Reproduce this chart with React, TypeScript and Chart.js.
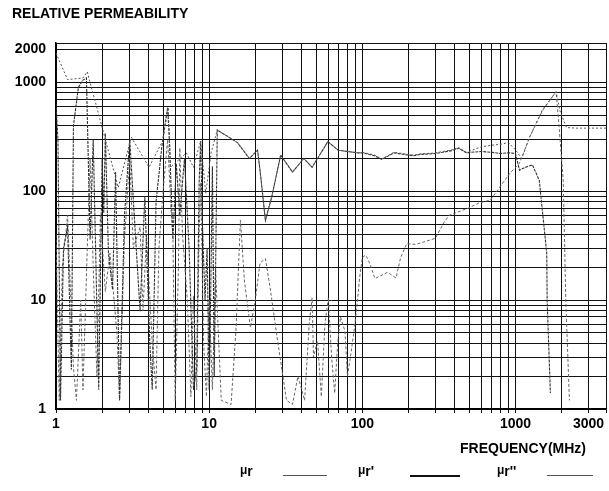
import React, { useEffect, useRef } from 'react';
import { Chart, registerables } from 'chart.js';
Chart.register(...registerables);

// μr (magnitude) – dotted
const F_MU = [1, 1.19, 1.5, 1.6, 2.05, 2.55, 3.1, 4.05, 4.97, 5.4, 5.6, 7.1, 7.9, 8.8, 9.5, 10.3, 11.3, 15.3, 18.3, 20.7, 21.6, 23.3, 25.6, 29.3, 35, 41.5, 47, 59.6, 69.6, 94, 101, 120, 134, 161, 215, 238, 300, 384, 425, 477, 594, 700, 800, 900, 1000, 1100, 1238, 1500, 1840, 1950, 2150, 2500, 3000, 3900];
const V_MU = [1860, 1060, 1100, 1250, 340, 108, 315, 166, 290, 590, 166, 225, 166, 290, 96, 225, 365, 280, 200, 238, 146, 54, 88, 215, 150, 200, 166, 286, 238, 225, 228, 215, 198, 228, 215, 220, 225, 240, 252, 228, 255, 265, 270, 280, 240, 200, 315, 560, 820, 550, 385, 380, 380, 380];

// μr' (real part)
const F_MU1 = [1, 1.03, 1.07, 1.12, 1.19, 1.26, 1.3, 1.4, 1.5, 1.58, 1.67, 1.75, 1.9, 2.0, 2.05, 2.1, 2.2, 2.34, 2.45, 2.6, 2.8, 3.03, 3.3, 3.54, 3.8, 4.1, 4.25, 4.5, 4.9, 5.2, 5.36, 5.5, 5.8, 6.1, 6.43, 6.9, 7.4, 7.9, 8.3, 8.6, 8.8, 9.0, 9.4, 9.7, 10.0, 10.2, 10.5, 10.8, 11.3, 15.3, 18.3, 20.7, 21.6, 23.3, 25.6, 29.3, 35, 41.5, 47, 59.6, 69.6, 94, 101, 120, 134, 161, 215, 238, 300, 384, 425, 477, 594, 700, 800, 900, 1000, 1063, 1150, 1290, 1430, 1600, 1610, 1690];
const V_MU1 = [640, 295, 1.2, 30, 47, 2.3, 400, 900, 1050, 1100, 36, 300, 1.5, 200, 63, 340, 27, 12.5, 150, 1.2, 60, 300, 40, 7.9, 90, 4, 1.5, 80, 250, 450, 590, 295, 36, 180, 60, 200, 30, 1.5, 2.4, 120, 290, 60, 10, 30, 1.5, 8, 170, 2, 365, 280, 200, 238, 146, 54, 88, 215, 150, 200, 166, 286, 238, 225, 225, 212, 196, 225, 212, 218, 222, 236, 248, 226, 232, 228, 222, 226, 222, 156, 165, 175, 126, 27, 10, 1.4];

// μr'' (imaginary part) – dashed
const F_MU2 = [1, 1.05, 1.1, 1.19, 1.3, 1.36, 1.45, 1.5, 1.6, 1.67, 1.75, 1.85, 1.95, 2.1, 2.25, 2.5, 2.6, 2.8, 3.03, 3.2, 3.54, 3.7, 3.9, 4.25, 4.5, 4.7, 5.0, 5.36, 5.6, 5.8, 6.0, 6.3, 6.43, 6.7, 7.2, 7.6, 7.9, 8.3, 8.6, 8.8, 9.2, 9.6, 10.0, 10.5, 11, 12, 13.9, 15, 15.6, 16, 17, 18.6, 20, 21.5, 23.3, 25, 28, 32, 35, 38, 42, 45, 47, 48, 51, 54, 57, 60, 63, 66, 69, 72, 77, 80, 83, 88, 92, 96, 100, 105, 110, 121, 146, 166, 178, 195, 222, 249, 300, 342, 368, 492, 577, 686, 918, 1060, 1238, 1500, 1840, 1900, 2050, 2100, 2130, 2250];
const V_MU2 = [40, 1.2, 20, 60, 2.4, 1.2, 10, 1.5, 30, 200, 20, 2.0, 60, 12, 27, 5, 1.2, 36, 200, 30, 47, 8, 40, 4, 1.5, 30, 100, 300, 80, 36, 1.2, 20, 250, 40, 10, 1.3, 11, 1.5, 40, 120, 4, 1.3, 10, 1.5, 20, 1.2, 1.1, 5.6, 23, 54, 15, 5.6, 10, 22, 24, 13, 4.2, 1.2, 1.1, 2, 1.2, 6, 10.5, 3, 4.2, 1.3, 6, 10.5, 3, 1.4, 4, 7, 5.2, 2, 2.8, 5, 8.5, 16, 24.6, 26, 23, 15.8, 18, 16, 24.6, 33, 32.5, 34, 37, 52, 60, 70, 78, 83, 146, 180, 315, 550, 820, 500, 126, 27, 10, 1.2];

const X_TICKS = [1, 10, 100, 1000, 3000];
const Y_TICKS = [1, 10, 100, 1000, 2000];
const X_MIN = 1, X_MAX = 3900;
const Y_MIN = 1, Y_MAX = 2300;

const FONT = "'Liberation Sans', Arial, sans-serif";

function logGrid(min: number, max: number) {
  const out: { value: number }[] = [];
  for (let e = 0; e < 5; e++) {
    for (let s = 1; s < 10; s++) {
      const v = s * Math.pow(10, e);
      if (v >= min && v < max) out.push({ value: v });
    }
  }
  out.push({ value: max });
  return out;
}

const pts = (f: number[], v: number[]) => f.map((x, i) => ({ x, y: v[i] }));
const hasTick = (list: number[], v: number) => list.some((t) => Math.abs(v - t) < 1e-6 * t);

export default function App() {
  const ref = useRef<HTMLCanvasElement | null>(null);
  useEffect(() => {
    if (!ref.current) return;
    const chart = new Chart(ref.current, {
      type: 'line',
      data: {
        datasets: [
          { label: 'μr', data: pts(F_MU, V_MU), borderColor: '#555', borderWidth: 1, borderDash: [2, 2], pointRadius: 0, tension: 0 },
          { label: "μr'", data: pts(F_MU1, V_MU1), borderColor: '#333', borderWidth: 1.1, borderDash: [3, 1], pointRadius: 0, tension: 0 },
          { label: "μr''", data: pts(F_MU2, V_MU2), borderColor: '#666', borderWidth: 1, borderDash: [3, 2], pointRadius: 0, tension: 0 },
        ],
      },
      options: {
        animation: false,
        responsive: false,
        layout: { padding: { top: 43, right: 2, left: 0, bottom: 0 } },
        plugins: { legend: { display: false }, tooltip: { enabled: false }, title: { display: false } },
        scales: {
          x: {
            type: 'logarithmic',
            min: X_MIN,
            max: X_MAX,
            afterBuildTicks: (s: any) => { s.ticks = logGrid(X_MIN, X_MAX); },
            afterFit: (s: any) => { s.height = 82; },
            grid: { color: '#111', lineWidth: 1, tickLength: 4, drawTicks: true },
            border: { color: '#000', width: 1.5 },
            ticks: {
              autoSkip: false, maxRotation: 0, padding: 3, color: '#000',
              font: { family: FONT, size: 14, weight: 'bold' },
              callback: (v: any) => (hasTick(X_TICKS, Number(v)) ? String(v) : ''),
            },
          },
          y: {
            type: 'logarithmic',
            min: Y_MIN,
            max: Y_MAX,
            afterBuildTicks: (s: any) => { s.ticks = logGrid(Y_MIN, Y_MAX); },
            afterFit: (s: any) => { s.width = 56; },
            grid: { color: '#111', lineWidth: 1, drawTicks: false },
            border: { color: '#000', width: 1.5 },
            ticks: {
              autoSkip: false, padding: 10, color: '#000',
              font: { family: FONT, size: 14, weight: 'bold' },
              callback: (v: any) => (hasTick(Y_TICKS, Number(v)) ? String(v) : ''),
            },
          },
        },
      } as any,
    });
    return () => chart.destroy();
  }, []);

  const txt: React.CSSProperties = { position: 'absolute', fontFamily: FONT, fontWeight: 'bold', fontSize: 14, lineHeight: '16px', color: '#000', whiteSpace: 'nowrap' };
  const mu = (primes: string, left: number) => (
    <div style={{ ...txt, left, top: 463 }}>
      <span style={{ fontSize: 12, position: 'relative', top: -2 }}>μ</span>
      <span>{'r' + primes}</span>
    </div>
  );
  const line = (left: number, width: number, h: number, color: string) => (
    <div style={{ position: 'absolute', left, top: 475, width, height: h, background: color }} />
  );

  return (
    <div style={{ position: 'fixed', left: 0, top: 0, width: 609, height: 491, background: '#fff', overflow: 'hidden' }}>
      <canvas ref={ref} width={609} height={491} style={{ position: 'absolute', left: 0, top: 0 }} />
      <div style={{ ...txt, left: 12, top: 5 }}>RELATIVE PERMEABILITY</div>
      <div style={{ ...txt, left: 460, top: 440 }}>FREQUENCY(MHz)</div>
      {mu('', 240)}
      {line(283, 44, 1, '#555')}
      {mu("'", 358)}
      {line(410, 50, 2, '#111')}
      {mu("''", 497)}
      {line(547, 46, 1, '#555')}
    </div>
  );
}
